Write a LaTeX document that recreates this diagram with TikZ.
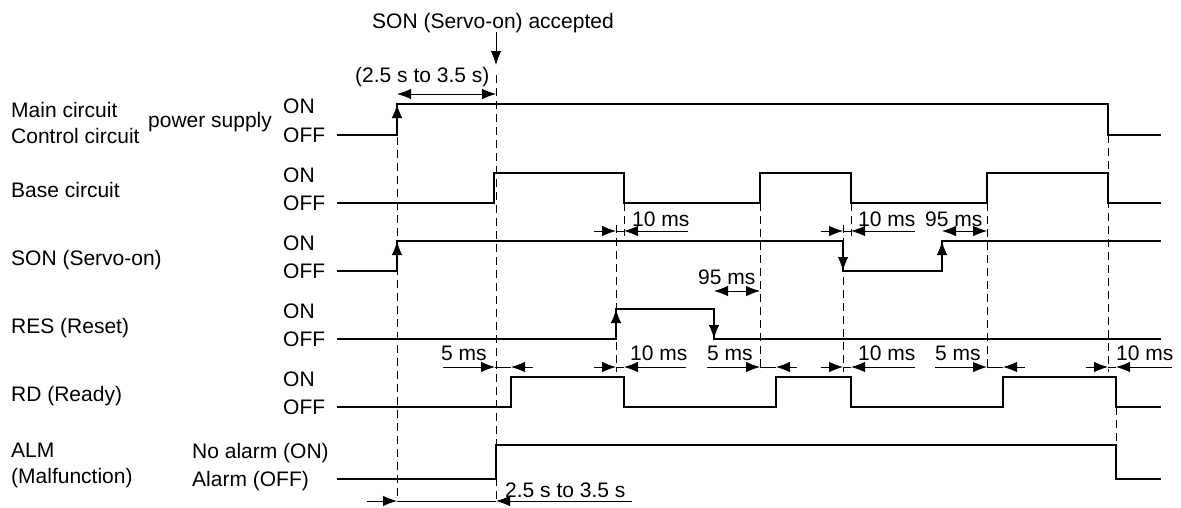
\documentclass[tikz,border=0pt]{standalone}
\usepackage{fontspec}
\setmainfont{Liberation Sans}
\usetikzlibrary{arrows.meta}

\begin{document}
\begin{tikzpicture}[x=1pt, y=-1pt,
  sig/.style={line width=1.3pt},
  guide/.style={line width=0.9pt, dash pattern=on 8pt off 5pt},
  dimline/.style={line width=0.9pt},
  arr/.style={-{Latex[length=14pt,width=10.5pt]}},
  darr/.style={{Latex[length=14pt,width=10.5pt]}-{Latex[length=14pt,width=10.5pt]}},
  lbl/.style={inner sep=0pt, anchor=base west, font=\fontsize{21}{25}\selectfont}]
  \useasboundingbox (0,0) rectangle (1181,507);
  % Signal names
  \node[lbl] (main) at (11,117) {Main circuit};
  \node[lbl] (ctrl) at (11,143) {Control circuit};
  \node[lbl] (psup) at (148,127) {power supply};
  \node[lbl] (base) at (11,197) {Base circuit};
  \node[lbl] (son) at (11,265) {SON (Servo-on)};
  \node[lbl] (res) at (11,333) {RES (Reset)};
  \node[lbl] (rd) at (11,401) {RD (Ready)};
  \node[lbl] (alm) at (11,457) {ALM};
  \node[lbl] (malf) at (11,483) {(Malfunction)};
  % ON / OFF levels
  \foreach \i/\yon/\yoff in {1/104/135, 2/173/203, 3/241/271, 4/309/339, 5/377/407} {
    \node[lbl] (on\i) at (283,\yon+9.5) {ON};
    \node[lbl] (off\i) at (283,\yoff+7.5) {OFF};
  }
  \node[lbl] (noalm) at (192,458) {No alarm (ON)};
  \node[lbl] (isalm) at (192,486) {Alarm (OFF)};
  % Guide lines
  \foreach \x/\ya/\yb in {397/137/500, 496/75/500, 616/225/372, 624/203/236, 760/203/372,
      843/225/372, 851/203/236, 987/203/372, 1108/135/372, 1116/407/445}
    \draw[guide] (\x,\ya) -- (\x,\yb);
  % Waveforms
  \draw[sig] (337,135) -- (397,135) -- (397,104) -- (1108,104) -- (1108,135) -- (1161,135);
  \draw[sig] (337,203) -- (494,203) -- (494,173) -- (624,173) -- (624,203) -- (760,203) -- (760,173)
    -- (851,173) -- (851,203) -- (987,203) -- (987,173) -- (1108,173) -- (1108,203) -- (1161,203);
  \draw[sig] (337,271) -- (397,271) -- (397,241) -- (843,241) -- (843,271) -- (942,271) -- (942,241) -- (1161,241);
  \draw[sig] (337,339) -- (616,339) -- (616,309) -- (714,309) -- (714,339) -- (1161,339);
  \draw[sig] (337,407) -- (511,407) -- (511,377) -- (624,377) -- (624,407) -- (776,407) -- (776,377)
    -- (851,377) -- (851,407) -- (1003,407) -- (1003,377) -- (1116,377) -- (1116,407) -- (1161,407);
  \draw[sig] (337,479) -- (496,479) -- (496,445) -- (1116,445) -- (1116,479) -- (1161,479);
  % Edge arrows
  \draw[sig,arr] (397,135) -- (397,104);
  \draw[sig,arr] (397,271) -- (397,241);
  \draw[sig,arr] (843,241) -- (843,271);
  \draw[sig,arr] (942,271) -- (942,241);
  \draw[sig,arr] (616,339) -- (616,309);
  \draw[sig,arr] (714,309) -- (714,339);
  % SON accepted
  \node[lbl] (acc) at (372,28) {SON (Servo-on) accepted};
  \draw[dimline,arr] (496,32) -- (496,65);
  \node[lbl] (tpow) at (355,82) {(2.5 s to 3.5 s)};
  \draw[dimline,darr] (397,94) -- (496,94);
  % Times on SON row
  \foreach \a/\b/\c/\d in {594/616/624/688, 821/843/851/915} {
    \draw[dimline,arr] (\a,231) -- (\b,231);
    \draw[dimline] (\b,231) -- (\c,231);
    \draw[dimline,arr] (\d,231) -- (\c,231);
  }
  \node[lbl] (tson1) at (632,226) {10 ms};
  \node[lbl] (tson2) at (858,226) {10 ms};
  \draw[dimline,darr] (942,231) -- (987,231);
  \node[lbl] (tson3) at (925,226) {95 ms};
  % Time on RES row
  \draw[dimline,darr] (714,291) -- (760,291);
  \node[lbl] (tres) at (698,284) {95 ms};
  % Times on RD row
  \foreach \a/\b/\c/\d/\t/\lx in {443/495/511/533/5 ms/441, 594/616/624/686/10 ms/630,
      707/760/776/797/5 ms/707, 821/843/851/915/10 ms/858,
      935/987/1003/1025/5 ms/935, 1086/1108/1116/1172/10 ms/1116} {
    \draw[dimline,arr] (\a,367) -- (\b,367);
    \draw[dimline] (\b,367) -- (\c,367);
    \draw[dimline,arr] (\d,367) -- (\c,367);
    \node[lbl] at (\lx,360) {\t};
  }
  % Alarm delay
  \draw[dimline,arr] (367,501) -- (397,501);
  \draw[dimline] (397,501) -- (496,501);
  \draw[dimline,arr] (632,501) -- (496,501);
  \node[lbl] (talm) at (505,497) {2.5 s to 3.5 s};
\end{tikzpicture}
\end{document}
